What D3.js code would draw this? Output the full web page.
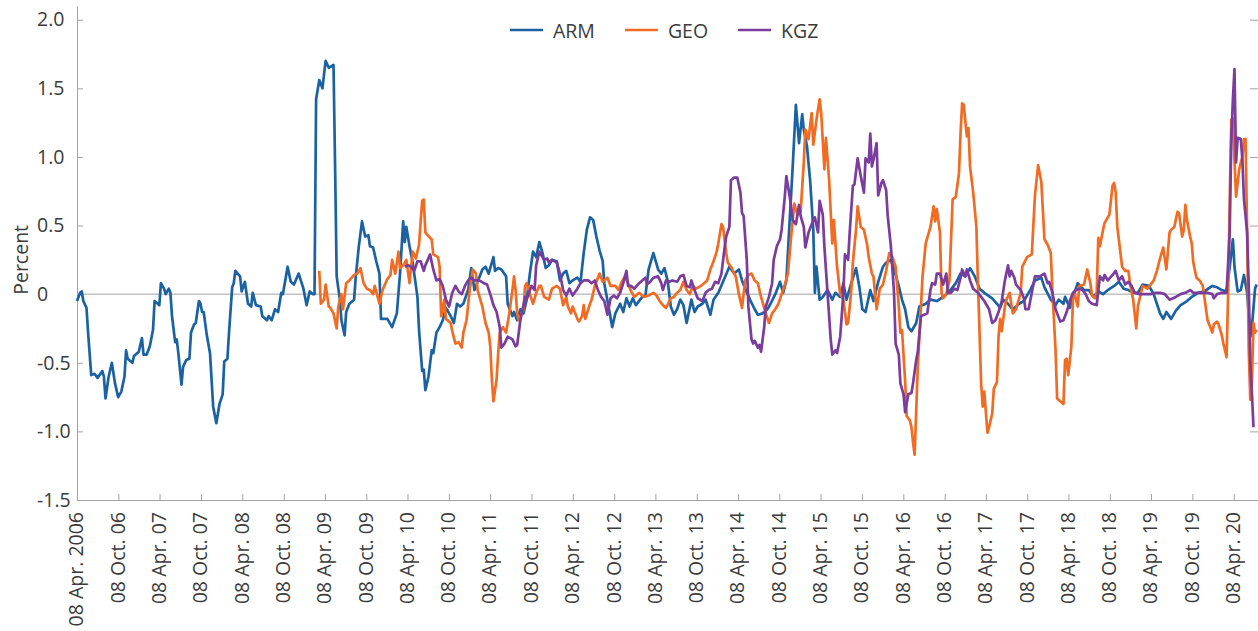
<!DOCTYPE html>
<html>
<head>
<meta charset="utf-8">
<script src="https://cdn.jsdelivr.net/npm/d3@7"></script>
<style>
body{margin:0;background:#fff;}
svg text{font-family:"Open Sans",sans-serif;fill:#3b3b3b;}
</style>
</head>
<body>
<svg id="chart"></svg>
<script>

// weekly series, [weeks since 08 Apr 2006, percent]
const ARM = [[0,-0.05],[2,0.01],[3,0.02],[4,-0.05],[6,-0.10],[7,-0.28],[9,-0.59],[11,-0.58],[13,-0.61],[16,-0.56],[17,-0.60],[18,-0.76],[20,-0.60],[22,-0.50],[24,-0.65],[26,-0.75],[28,-0.71],[30,-0.60],[31,-0.41],[32,-0.47],[35,-0.50],[36,-0.45],[39,-0.42],[41,-0.32],[42,-0.44],[44,-0.44],[46,-0.38],[48,-0.26],[49,-0.05],[51,-0.07],[52,-0.08],[53,0.08],[55,0.04],[56,0.00],[58,0.04],[59,0.01],[60,-0.16],[62,-0.35],[63,-0.33],[64,-0.43],[66,-0.66],[67,-0.53],[69,-0.48],[71,-0.47],[72,-0.28],[74,-0.22],[75,-0.21],[77,-0.05],[78,-0.07],[79,-0.13],[80,-0.13],[82,-0.30],[84,-0.43],[86,-0.82],[88,-0.94],[90,-0.80],[92,-0.73],[93,-0.49],[95,-0.47],[96,-0.28],[98,0.05],[99,0.08],[100,0.17],[103,0.13],[104,0.02],[106,0.09],[108,-0.07],[110,-0.09],[111,0.01],[113,-0.08],[116,-0.09],[117,-0.16],[120,-0.19],[121,-0.16],[123,-0.19],[125,-0.11],[127,-0.13],[129,0.01],[130,0.00],[132,0.13],[133,0.20],[135,0.09],[137,0.07],[140,0.15],[143,0.04],[145,-0.08],[147,0.02],[149,0.00],[150,0.00],[151,1.42],[153,1.56],[155,1.50],[157,1.70],[159,1.65],[162,1.67],[163,0.93],[164,0.13],[166,-0.04],[167,-0.19],[169,-0.30],[170,-0.13],[172,-0.07],[175,-0.04],[176,0.12],[178,0.35],[180,0.53],[182,0.42],[184,0.43],[185,0.35],[187,0.34],[189,0.24],[191,0.15],[192,-0.18],[196,-0.18],[199,-0.24],[202,-0.14],[204,0.15],[206,0.53],[207,0.38],[208,0.49],[210,0.35],[212,0.23],[215,-0.02],[216,-0.26],[218,-0.56],[219,-0.55],[220,-0.70],[222,-0.60],[224,-0.41],[225,-0.43],[227,-0.28],[229,-0.24],[231,-0.19],[233,-0.10],[236,-0.16],[238,-0.21],[240,-0.07],[242,-0.09],[244,-0.07],[247,0.03],[249,0.19],[251,0.03],[253,0.09],[256,0.18],[258,0.20],[260,0.15],[263,0.27],[264,0.17],[266,0.19],[268,0.18],[271,0.13],[272,-0.07],[275,-0.16],[276,-0.13],[278,-0.19],[280,-0.11],[282,-0.14],[284,-0.04],[286,0.15],[288,0.31],[290,0.27],[292,0.38],[294,0.30],[296,0.19],[298,0.21],[300,0.25],[303,0.24],[305,0.10],[307,0.15],[309,0.17],[311,0.08],[313,0.10],[316,0.12],[318,0.09],[320,0.30],[322,0.47],[324,0.56],[326,0.54],[328,0.42],[330,0.32],[332,0.24],[333,0.08],[336,-0.11],[338,-0.24],[340,-0.14],[343,-0.07],[345,-0.13],[347,-0.03],[349,-0.09],[351,-0.03],[353,-0.08],[357,-0.02],[359,-0.01],[361,0.18],[364,0.30],[367,0.18],[369,0.15],[371,0.19],[373,0.10],[375,-0.09],[377,-0.15],[379,-0.11],[381,-0.04],[383,-0.08],[385,-0.21],[388,-0.04],[390,-0.13],[392,-0.09],[395,-0.07],[397,-0.04],[400,-0.15],[402,-0.04],[405,0.01],[408,0.09],[412,0.20],[415,0.15],[418,0.18],[420,0.10],[422,0.04],[425,-0.04],[428,-0.11],[430,-0.15],[433,-0.14],[436,-0.11],[438,-0.07],[441,0.00],[444,0.09],[446,0.01],[448,0.10],[450,0.52],[452,0.93],[454,1.38],[456,1.10],[458,1.31],[459,1.20],[461,1.08],[463,0.83],[465,0.47],[466,0.01],[467,0.20],[469,-0.04],[471,-0.02],[474,0.03],[477,-0.04],[479,0.01],[482,-0.02],[484,0.08],[486,-0.04],[489,0.08],[492,0.19],[494,0.06],[496,-0.11],[498,-0.13],[501,0.03],[503,-0.05],[506,0.09],[509,0.20],[511,0.23],[514,0.25],[516,0.18],[519,0.06],[521,-0.04],[523,-0.11],[525,-0.24],[527,-0.27],[530,-0.21],[532,-0.09],[536,-0.07],[539,-0.04],[543,-0.05],[547,-0.02],[551,0.02],[555,0.08],[558,0.15],[561,0.13],[564,0.19],[567,0.13],[570,0.04],[573,0.01],[578,-0.03],[581,-0.07],[583,-0.10],[585,-0.04],[588,-0.07],[591,-0.11],[595,-0.07],[598,-0.05],[602,0.03],[605,0.10],[609,0.12],[611,0.05],[615,-0.04],[618,-0.08],[620,-0.04],[623,-0.07],[624,-0.02],[627,-0.10],[629,-0.02],[632,0.08],[636,0.03],[639,0.03],[642,-0.02],[645,0.02],[648,0.00],[651,0.03],[655,0.06],[658,0.09],[661,0.04],[664,0.03],[667,0.01],[670,0.01],[673,0.07],[677,0.06],[680,0.00],[682,-0.07],[684,-0.14],[686,-0.18],[688,-0.13],[691,-0.18],[694,-0.12],[697,-0.08],[701,-0.05],[704,-0.02],[708,0.01],[712,0.02],[717,0.06],[720,0.05],[723,0.03],[726,0.02],[728,0.20],[730,0.40],[731,0.20],[733,0.02],[735,0.03],[737,0.14],[739,0.01],[741,-0.31],[742,-0.24],[744,0.04],[745,0.07]];

const GEO = [[153,0.17],[154,-0.07],[156,-0.04],[157,0.07],[159,-0.09],[160,-0.10],[162,-0.14],[164,-0.25],[165,-0.09],[167,0.00],[168,-0.11],[170,0.08],[172,0.10],[175,0.14],[177,0.15],[179,0.19],[181,0.08],[183,0.04],[185,0.03],[187,0.00],[188,0.06],[191,-0.07],[193,0.03],[196,0.11],[198,0.14],[199,0.25],[201,0.15],[203,0.31],[204,0.19],[206,0.21],[208,0.25],[210,0.08],[212,0.31],[214,0.26],[216,0.36],[218,0.68],[219,0.69],[220,0.45],[223,0.41],[224,0.40],[225,0.29],[228,0.27],[229,0.20],[230,-0.16],[232,-0.04],[233,-0.18],[236,-0.21],[237,-0.27],[239,-0.36],[241,-0.35],[243,-0.39],[244,-0.28],[246,-0.19],[248,0.03],[250,0.18],[252,0.15],[253,0.03],[256,-0.09],[258,-0.21],[260,-0.28],[261,-0.38],[262,-0.62],[263,-0.78],[265,-0.62],[266,-0.43],[267,-0.28],[269,-0.24],[271,-0.28],[273,-0.14],[275,0.03],[276,0.13],[277,0.03],[278,-0.14],[279,-0.19],[282,-0.11],[283,0.06],[284,0.08],[286,0.00],[288,-0.07],[290,0.01],[292,0.06],[293,0.06],[295,-0.02],[298,-0.04],[300,0.04],[303,0.06],[305,0.04],[307,-0.08],[309,-0.02],[310,-0.09],[312,-0.14],[313,-0.09],[316,-0.18],[317,-0.20],[319,-0.16],[320,-0.08],[321,-0.18],[324,-0.07],[325,-0.04],[327,0.06],[328,0.09],[330,0.15],[332,0.09],[335,0.12],[337,0.06],[340,0.06],[342,0.03],[344,0.09],[346,0.13],[348,0.08],[350,0.02],[352,-0.02],[355,0.01],[358,-0.02],[361,-0.01],[364,0.01],[366,-0.01],[368,-0.05],[370,-0.08],[372,-0.10],[375,-0.03],[377,-0.02],[379,0.01],[381,0.03],[383,0.09],[385,0.03],[387,0.00],[389,0.06],[391,0.04],[394,0.06],[396,0.08],[398,0.10],[400,0.18],[402,0.24],[404,0.31],[405,0.37],[407,0.51],[408,0.49],[410,0.30],[411,0.23],[413,0.20],[416,0.13],[418,0.00],[420,-0.10],[422,0.10],[424,0.14],[426,0.15],[428,0.10],[430,0.08],[432,-0.02],[435,-0.14],[437,-0.21],[439,-0.14],[441,-0.11],[443,-0.07],[445,0.00],[447,0.07],[449,0.15],[451,0.42],[453,0.66],[455,0.58],[457,0.60],[459,0.96],[460,1.20],[462,1.13],[464,1.32],[465,1.09],[467,1.27],[469,1.42],[470,1.32],[472,0.91],[473,1.14],[475,0.83],[477,0.37],[478,0.54],[480,0.20],[482,0.00],[484,-0.04],[486,-0.22],[487,-0.21],[489,0.03],[490,0.23],[492,0.47],[493,0.64],[495,0.49],[497,0.47],[499,0.36],[500,0.27],[502,0.15],[503,0.13],[505,-0.11],[507,0.04],[509,0.07],[511,0.17],[513,0.30],[515,0.27],[517,0.20],[519,-0.09],[520,-0.28],[521,-0.26],[523,-0.63],[524,-0.89],[526,-0.92],[527,-0.97],[528,-1.08],[529,-1.17],[531,-0.53],[534,0.13],[536,0.37],[539,0.49],[541,0.64],[542,0.53],[543,0.62],[545,0.45],[546,0.01],[547,-0.03],[549,0.00],[551,0.10],[553,0.69],[555,0.71],[557,0.88],[558,1.17],[559,1.39],[560,1.38],[562,1.15],[563,1.21],[564,0.93],[566,0.74],[568,0.49],[569,0.08],[570,-0.28],[571,-0.65],[572,-0.82],[573,-0.71],[575,-1.01],[576,-0.97],[578,-0.87],[579,-0.69],[581,-0.64],[582,-0.31],[583,-0.18],[584,-0.27],[586,-0.09],[587,-0.04],[589,0.01],[591,-0.14],[593,-0.11],[596,0.01],[597,0.20],[600,0.27],[603,0.29],[605,0.72],[607,0.94],[609,0.82],[611,0.40],[613,0.36],[615,0.30],[616,0.03],[618,-0.41],[619,-0.76],[621,-0.78],[623,-0.80],[624,-0.48],[625,-0.47],[626,-0.59],[628,-0.38],[629,-0.04],[630,0.01],[632,-0.09],[633,0.06],[636,0.07],[638,0.18],[640,0.08],[641,-0.01],[643,-0.03],[644,0.01],[645,0.41],[646,0.35],[648,0.47],[649,0.52],[651,0.56],[652,0.58],[654,0.79],[655,0.81],[656,0.74],[657,0.49],[659,0.30],[660,0.20],[662,0.17],[664,0.17],[665,0.08],[667,-0.04],[669,-0.25],[670,-0.09],[672,0.01],[673,0.06],[676,0.04],[678,0.07],[680,0.10],[682,0.17],[684,0.26],[685,0.30],[686,0.34],[688,0.18],[690,0.45],[691,0.47],[693,0.49],[695,0.60],[696,0.59],[698,0.42],[699,0.47],[700,0.65],[701,0.54],[703,0.42],[704,0.37],[705,0.23],[707,0.12],[709,0.10],[711,0.06],[714,-0.19],[715,-0.22],[717,-0.28],[718,-0.22],[720,-0.20],[721,-0.22],[723,-0.30],[724,-0.36],[726,-0.46],[727,0.00],[728,0.69],[729,1.27],[730,1.28],[731,0.98],[732,0.71],[733,0.81],[734,0.91],[735,0.96],[736,1.00],[737,1.13],[738,1.13],[739,0.45],[740,-0.41],[741,-0.77],[742,-0.65],[743,-0.21],[744,-0.28],[745,-0.26]];

const KGZ = [[207,0.20],[209,0.21],[211,0.20],[213,0.17],[215,0.24],[217,0.24],[219,0.17],[220,0.21],[223,0.29],[225,0.18],[227,0.10],[229,0.11],[231,0.06],[233,-0.04],[235,-0.09],[237,0.01],[239,0.06],[241,0.02],[243,0.00],[245,0.06],[247,0.10],[249,0.12],[251,0.10],[254,0.10],[257,0.08],[259,0.07],[261,0.00],[263,-0.08],[265,-0.13],[267,-0.24],[268,-0.39],[270,-0.36],[272,-0.31],[275,-0.33],[277,-0.38],[278,-0.37],[280,-0.19],[282,-0.08],[283,-0.02],[284,-0.04],[287,0.06],[289,0.03],[290,0.21],[292,0.31],[295,0.25],[297,0.26],[298,0.23],[300,0.25],[303,0.23],[305,0.15],[307,0.03],[309,-0.01],[311,0.04],[313,-0.01],[316,0.04],[318,0.08],[320,0.10],[323,0.10],[325,0.08],[327,0.10],[329,0.03],[331,-0.02],[333,-0.05],[335,-0.15],[337,-0.03],[339,-0.01],[341,-0.03],[343,0.01],[345,0.08],[347,0.17],[348,0.06],[350,0.06],[352,0.04],[355,0.08],[357,0.10],[359,0.12],[360,0.07],[362,0.09],[364,0.12],[367,0.13],[369,0.08],[370,0.03],[372,0.10],[374,0.09],[376,0.10],[379,0.09],[381,0.13],[383,0.14],[385,0.06],[387,0.05],[388,0.10],[390,0.03],[392,-0.03],[395,-0.05],[397,0.01],[399,0.03],[401,0.04],[403,0.09],[405,0.08],[407,0.15],[409,0.34],[410,0.42],[412,0.49],[413,0.83],[415,0.85],[417,0.85],[419,0.74],[420,0.59],[421,0.57],[423,0.25],[424,-0.09],[426,-0.33],[427,-0.36],[428,-0.34],[430,-0.39],[431,-0.37],[432,-0.42],[434,-0.24],[435,-0.09],[437,-0.02],[439,0.08],[440,0.25],[442,0.35],[444,0.40],[445,0.47],[447,0.71],[448,0.86],[449,0.79],[451,0.64],[452,0.54],[454,0.51],[456,0.65],[457,0.57],[459,0.49],[460,0.34],[462,0.45],[464,0.51],[466,0.56],[468,0.45],[469,0.68],[471,0.58],[472,0.35],[474,0.01],[476,-0.33],[477,-0.44],[479,-0.41],[480,-0.43],[482,-0.31],[484,0.01],[485,0.29],[487,0.25],[488,0.45],[490,0.79],[491,0.80],[493,0.99],[495,0.86],[497,0.74],[498,0.99],[500,0.96],[501,1.17],[502,0.93],[503,0.98],[505,1.10],[506,0.72],[508,0.81],[509,0.83],[511,0.76],[512,0.57],[514,0.35],[516,0.01],[517,-0.36],[519,-0.44],[520,-0.65],[522,-0.73],[523,-0.86],[525,-0.73],[527,-0.72],[528,-0.65],[530,-0.48],[531,-0.42],[533,-0.16],[535,-0.15],[537,-0.14],[539,0.03],[540,0.08],[542,0.07],[543,0.15],[545,0.15],[547,0.07],[549,0.15],[550,0.01],[552,0.01],[554,0.04],[556,0.03],[558,0.12],[559,0.18],[561,0.13],[562,0.18],[564,0.10],[566,0.04],[569,0.01],[571,-0.02],[573,-0.05],[576,-0.11],[578,-0.21],[580,-0.19],[582,-0.13],[584,-0.05],[586,0.10],[588,0.21],[589,0.13],[590,0.17],[592,0.12],[593,0.07],[596,0.03],[598,-0.03],[599,-0.11],[601,-0.11],[603,0.01],[605,0.13],[608,0.13],[611,0.15],[613,0.08],[614,0.09],[616,0.01],[618,-0.11],[619,-0.14],[621,-0.20],[623,-0.19],[625,-0.13],[627,-0.05],[629,0.01],[631,0.03],[633,0.04],[635,0.03],[637,0.00],[639,-0.05],[641,-0.07],[644,-0.08],[646,0.13],[648,0.10],[649,0.14],[651,0.10],[654,0.14],[656,0.17],[658,0.10],[660,0.13],[662,0.07],[664,0.09],[666,0.06],[668,0.01],[671,0.00],[675,0.00],[678,0.00],[681,0.01],[684,0.01],[687,0.00],[690,-0.04],[694,-0.02],[697,0.00],[700,0.01],[703,0.03],[705,0.01],[709,0.01],[714,0.01],[717,0.00],[718,-0.03],[720,0.00],[723,0.01],[726,0.01],[728,0.45],[729,1.13],[730,1.42],[731,1.64],[732,0.96],[733,1.14],[735,1.13],[736,0.98],[737,0.69],[739,0.45],[740,0.06],[741,-0.50],[742,-0.72],[743,-0.97]];

const seriesNames = ["ARM", "GEO", "KGZ"];
const seriesColors = ["#1b62a3", "#f26b22", "#7a3c9d"];
const yTicks = [-1.5, -1.0, -0.5, 0, 0.5, 1.0, 1.5, 2.0];
const tickMonths = ["Apr.", "Oct."];

const width = 1258, height = 631;
const margin = {left: 77, right: 0, top: 6, bottom: 131};
const fontSize = "19.5px";

const startDate = new Date(2006, 3, 8);
const endDate = new Date(2020, 6, 24);
const weekDate = w => d3.timeDay.offset(startDate, 7 * w);

const svg = d3.select("#chart")
        .attr("width", width)
        .attr("height", height)
        .style("background", "#fff");

const x = d3.scaleTime().domain([startDate, endDate]).range([margin.left, width - margin.right]);
const y = d3.scaleLinear().domain([-1.5, 2.1]).range([height - margin.bottom, margin.top]);

// one tick every six months, from 08 Apr 2006
const tickDates = d3.range(29).map(i => d3.timeMonth.offset(startDate, 6 * i));
const tickLabel = (d, i) => i === 0 ? "08 Apr. 2006" : "08 " + tickMonths[i % 2] + " " + d3.timeFormat("%y")(d);

const axisColor = "#a3a3a3";

// zero line
svg.append("line")
        .attr("x1", margin.left).attr("x2", width)
        .attr("y1", y(0)).attr("y2", y(0))
        .attr("stroke", axisColor).attr("stroke-width", 1);

const xAxis = svg.append("g")
        .attr("transform", `translate(0, ${y(-1.5)})`)
        .call(d3.axisBottom(x).tickValues(tickDates).tickSize(-6).tickSizeOuter(0).tickFormat(tickLabel));

xAxis.selectAll("text")
        .attr("transform", "rotate(-90)")
        .attr("text-anchor", "end")
        .attr("x", -12)
        .attr("y", 0)
        .attr("dy", "0.3em")
        .style("font-size", fontSize);

const yAxis = svg.append("g")
        .attr("transform", `translate(${margin.left}, 0)`)
        .call(d3.axisLeft(y).tickValues(yTicks).tickSize(-6).tickSizeOuter(0)
                .tickFormat(d => d === 0 ? "0" : d3.format(".1f")(d).replace("\u2212", "-")));

yAxis.selectAll("text")
        .attr("text-anchor", "start")
        .attr("x", -40)
        .style("font-size", fontSize);

// inward ticks on the right edge
const rAxis = svg.append("g")
        .attr("transform", `translate(${width}, 0)`)
        .call(d3.axisRight(y).tickValues(yTicks).tickSize(-8).tickFormat(""));
rAxis.select(".domain").remove();

svg.selectAll(".domain, .tick line").attr("stroke", axisColor);

svg.append("text")
        .attr("transform", `translate(20, ${y(0.25)}) rotate(-90)`)
        .attr("text-anchor", "middle")
        .attr("dominant-baseline", "central")
        .style("font-size", fontSize)
        .text("Percent");

const line = d3.line()
        .x(d => x(weekDate(d[0])))
        .y(d => y(d[1]));

[ARM, GEO, KGZ].forEach((data, idx) => {
        svg.append("path")
                .datum(data)
                .attr("fill", "none")
                .attr("stroke", seriesColors[idx])
                .attr("stroke-width", 2.7)
                .attr("stroke-linejoin", "round")
                .attr("d", line);
});

// legend
const legend = svg.append("g").attr("transform", "translate(510, 30)");
let lx = 0;
seriesNames.forEach((name, idx) => {
        legend.append("line")
                .attr("x1", lx).attr("x2", lx + 33)
                .attr("stroke", seriesColors[idx])
                .attr("stroke-width", 2.7);
        let t = legend.append("text")
                .attr("x", lx + 43)
                .attr("dominant-baseline", "central")
                .style("font-size", fontSize)
                .text(name);
        lx += 43 + t.node().getComputedTextLength() + 30;
});

</script>
</body>
</html>
